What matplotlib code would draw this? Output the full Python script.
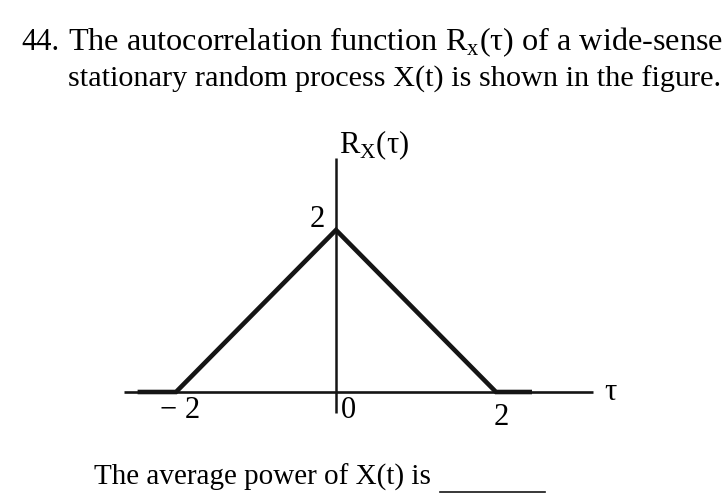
import numpy as np
import matplotlib.pyplot as plt
from matplotlib.lines import Line2D

plt.rcParams['font.family'] = ['Liberation Serif', 'DejaVu Serif']
plt.rcParams['mathtext.fontset'] = 'custom'
plt.rcParams['mathtext.rm'] = 'Liberation Serif'

# autocorrelation R_x(tau): triangle of height 2 between -2 and 2
tau = [-2.48, -2, 0, 2, 2.45]
rx = [0, 0, 2, 0, 0]
x_ticks = [-2, 0, 2]
x_tick_labels = ['\u2212 2', '0', '2']
peak_label = '2'

W, H = 726, 500
fig = plt.figure(figsize=(W / 100, H / 100), dpi=100)
ax = fig.add_axes([0, 0, 1, 1])
# pixel mapping: tau=0 at x=336, 80 px per unit; R=0 at row 392, 81 px per unit
ax.set_xlim(-336 / 80, (W - 336) / 80)
ax.set_ylim(-(H - 392) / 81, 392 / 81)
ax.axis('off')

ink = '#151515'
# axes
ax.plot([-2.65, 3.21], [0, 0], color=ink, lw=1.9, solid_capstyle='butt')
ax.plot([0, 0], [-0.26, 2.89], color=ink, lw=1.8, solid_capstyle='butt')
# function
ax.plot(tau, rx, color=ink, lw=3.3, solid_joinstyle='miter', solid_capstyle='butt')

# labels
ax.text(x_ticks[0] + 0.05, -0.32, x_tick_labels[0], ha='center', va='baseline', fontsize=22)
ax.text(x_ticks[1] + 0.15, -0.32, x_tick_labels[1], ha='center', va='baseline', fontsize=22)
ax.text(x_ticks[2] + 0.06, -0.41, x_tick_labels[2], ha='center', va='baseline', fontsize=22)
ax.text(-0.14, 2.04, peak_label, ha='right', va='baseline', fontsize=22)
ax.text(0.04, 2.95, r'R$_{\mathrm{X}}$(τ)', ha='left', va='baseline', fontsize=22)
ax.text(3.35, 0.0, 'τ', ha='left', va='center', fontsize=22)


def ftext(px, py, s, **kw):
    fig.text(px / W, 1 - py / H, s, **kw)


ftext(21, 50, '44.', fontsize=22, va='baseline')
ftext(68, 50, r'The autocorrelation function R$_{\mathrm{x}}$(τ) of a wide-sense',
      fontsize=23.2, va='baseline')
ftext(68, 87, 'stationary random process X(t) is shown in the figure.',
      fontsize=21.8, va='baseline')
ftext(94, 485, 'The average power of X(t) is', fontsize=21, va='baseline')
fig.add_artist(Line2D([440 / W, 545 / W], [1 - 492 / H, 1 - 492 / H],
                      color=ink, lw=1.2))

fig.savefig('out.png', dpi=100)
